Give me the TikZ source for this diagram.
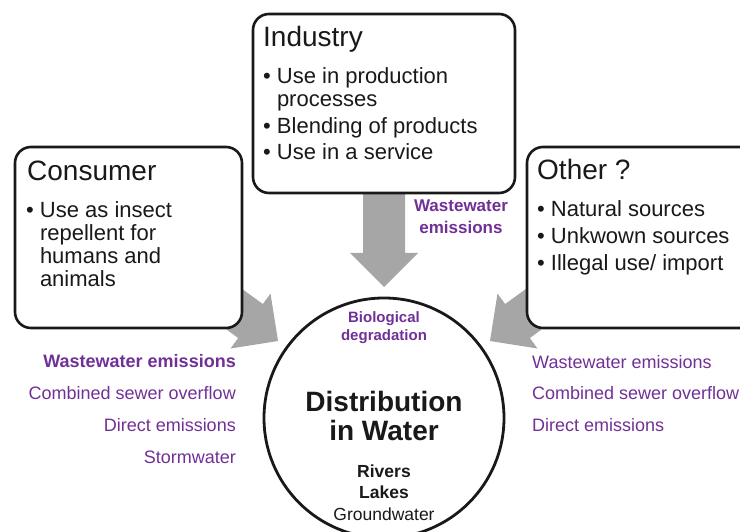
\documentclass[tikz,border=0pt]{standalone}
\usepackage{fontspec}
\setmainfont{Liberation Sans}
\definecolor{emission}{RGB}{112,48,150}
\definecolor{flowgray}{RGB}{166,166,166}

\begin{document}
\begin{tikzpicture}[x=1pt,y=-1pt,
	source/.style={draw=black!90,line width=2.6pt,rounded corners=16pt,fill=white,inner sep=0pt},
	head/.style={anchor=base west,inner sep=0pt,text=black!90,font=\fontsize{28}{30}\selectfont},
	items/.style={anchor=base west,inner sep=0pt,align=left,text=black!90,font=\fontsize{22}{23.3}\selectfont},
	route/.style={inner sep=0pt,text=emission,font=\fontsize{18}{31.7}\selectfont}]
	\useasboundingbox (0,0) rectangle (740,532);
	\clip (0,0) rectangle (740,532);
	\node [draw=black!90,line width=2.8pt,circle,minimum size=240pt,inner sep=0pt] (water) at (384,418) {};
	\foreach \turn in {54,0,-54}
		\fill [flowgray,shift={(water.center)},rotate=\turn]
			(-21,-225) -- (-21,-165) -- (-34,-165) -- (0,-131) -- (34,-165) -- (21,-165) -- (21,-225) -- cycle;
	\node [source,minimum width=262pt,minimum height=179pt] (industry) at (384,103.5) {};
	\node [source,minimum width=227pt,minimum height=181pt] (consumer) at (128.5,237.5) {};
	\node [source,minimum width=233pt,minimum height=181pt] (other) at (643.5,237.5) {};
	\node [head] (industryhead) at (263,47) {Industry};
	\node [head] (consumerhead) at (27,181) {Consumer};
	\node [head] (otherhead) at (537,180) {Other ?};
	% multi-line nodes sit on the baseline of their last line
	\node [items] (industrylist) at (263,160)
	{\textbullet\ Use in production\\\phantom{\textbullet\ }processes\\[3.5pt]\textbullet\ Blending of products\\[3.5pt]\textbullet\ Use in a service};
	\node [items] (consumerlist) at (26,287)
	{\textbullet\ Use as insect\\\phantom{\textbullet\ }repellent for\\\phantom{\textbullet\ }humans and\\\phantom{\textbullet\ }animals};
	\node [items] (otherlist) at (537,270.5)
	{\textbullet\ Natural sources\\[3.5pt]\textbullet\ Unkwown sources\\[3.5pt]\textbullet\ Illegal use/ import};
	\node [route,anchor=base,align=center,font=\bfseries\fontsize{17}{22}\selectfont] (industryflow) at (461,234)
	{Wastewater\\emissions};
	\node [route,anchor=base east,align=right] (leftroutes) at (236,463)
	{\textbf{Wastewater emissions}\\Combined sewer overflow\\Direct emissions\\Stormwater};
	\node [route,anchor=base west,align=left] (rightroutes) at (532,431.5)
	{Wastewater emissions\\Combined sewer overflow\\Direct emissions};
	\node [route,anchor=base,align=center,font=\bfseries\fontsize{15}{18}\selectfont] (degradation) at (384,341)
	{Biological\\degradation};
	\node [anchor=base,inner sep=0pt,align=center,text=black!90,font=\bfseries\fontsize{28}{29}\selectfont] (distribution) at (384,440)
	{Distribution\\in Water};
	\node [anchor=base,inner sep=0pt,align=center,text=black!90,font=\fontsize{17.5}{21.5}\selectfont] (waterbodies) at (384,520)
	{\textbf{Rivers}\\\textbf{Lakes}\\Groundwater};
\end{tikzpicture}
\end{document}
